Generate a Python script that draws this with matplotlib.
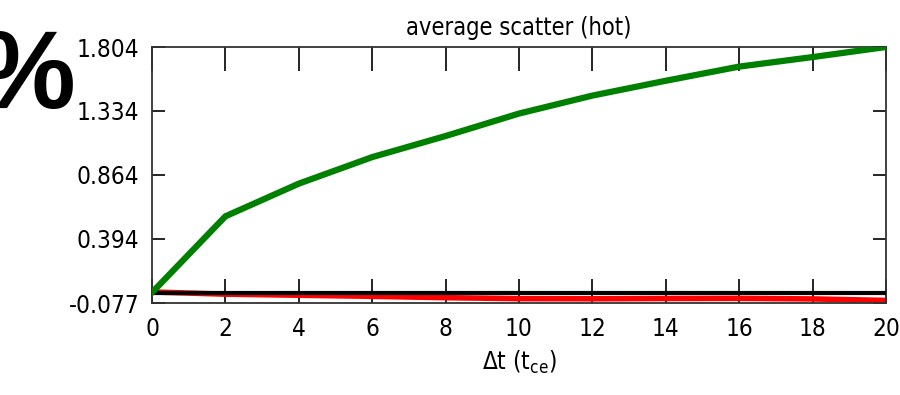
import numpy as np
import matplotlib.pyplot as plt

# data
dt = [0, 2, 4, 6, 8, 10, 12, 14, 16, 18, 20]
green_vals = [0.0, 0.56, 0.80, 0.995, 1.15, 1.315, 1.447, 1.556, 1.66, 1.73, 1.804]
red_vals = [0.004, -0.012, -0.02, -0.028, -0.038, -0.045, -0.046, -0.044, -0.043, -0.047, -0.058]
black_vals = [0.0] * len(dt)
ytick_vals = [-0.077, 0.394, 0.864, 1.334, 1.804]
ytick_labels = ['-0.077', '0.394', '0.864', '1.334', '1.804']

plt.rcParams['font.family'] = ['DejaVu Sans']
plt.rcParams['font.stretch'] = 'condensed'
plt.rcParams['font.size'] = 17

fig = plt.figure(figsize=(9, 3.95), dpi=100)
ax = fig.add_axes([0.1689, 0.2329, 0.8155, 0.6481])

ax.plot(dt, red_vals, color='#ff0000', linewidth=4.0, zorder=2)
ax.plot(dt, black_vals, color='black', linewidth=3.0, zorder=3)
ax.plot(dt, green_vals, color='#008000', linewidth=4.5, zorder=4)

ax.set_xlim(0, 20)
ax.set_ylim(-0.077, 1.804)
ax.set_xticks(dt)
ax.set_yticks(ytick_vals)
ax.set_yticklabels(ytick_labels)

ax.tick_params(axis='x', direction='in', length=17, width=1.2, top=True, pad=10, labelsize=17.5)
ax.tick_params(axis='y', direction='in', length=9.5, width=1.2, right=True, pad=9, labelsize=17.5)
for s in ax.spines.values():
    s.set_linewidth(1.3)
    s.set_color('#333333')

ax.set_title('average scatter (hot)', fontsize=17, pad=9)
ax.set_xlabel(r'$\Delta$t (t$_\mathregular{ce}$)', fontsize=17.5, labelpad=6)

fig.text(75 / 900, 1 - 79 / 395, '%', fontsize=80, fontweight='bold',
         family=['Liberation Sans', 'DejaVu Sans'], stretch='normal',
         ha='right', va='center')

fig.savefig('out.png', dpi=100)
